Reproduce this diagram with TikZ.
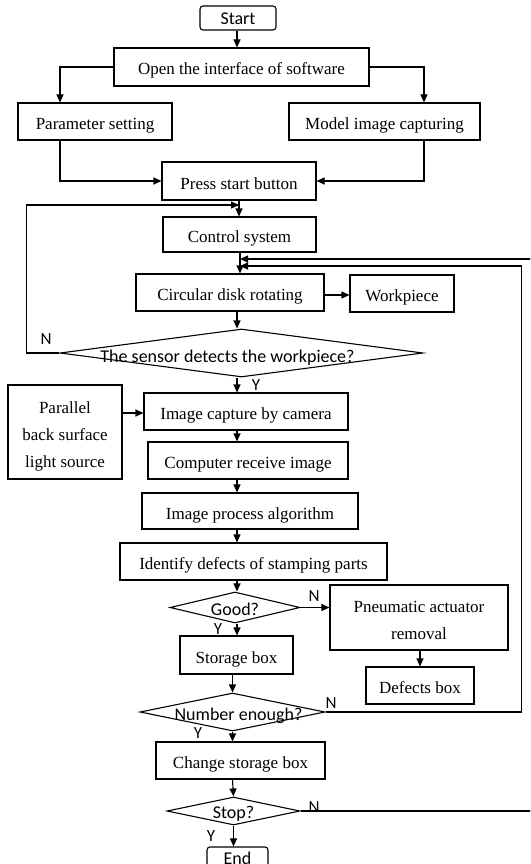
\documentclass[tikz,border=0pt]{standalone}
\usepackage{fontspec}
\setmainfont{Liberation Serif}
\newfontfamily\calibri{Carlito}
\usetikzlibrary{shapes.geometric,arrows.meta}
\begin{document}
\begin{tikzpicture}[x=1pt,y=-1pt,
  box/.style={draw, line width=1.1pt, inner sep=0pt, align=center, text height=16pt, text depth=0pt, font=\fontsize{17}{20}\selectfont},
  box3/.style={draw, line width=1.1pt, inner sep=0pt, align=center, font=\fontsize{17}{27}\selectfont},
  term/.style={draw, line width=1.1pt, inner sep=0pt, rounded corners=3pt, text depth=0pt, font=\calibri\fontsize{18}{20}\selectfont},
  dia/.style={draw, diamond, line width=1.1pt, inner sep=0pt, text depth=0pt, font=\calibri\fontsize{18}{20}\selectfont},
  arr/.style={line width=1.1pt, -{Triangle[length=8pt,width=7pt]}},
  lab/.style={inner sep=0pt, font=\calibri\fontsize{17}{20}\selectfont}]
\clip (0,0) rectangle (530,864);
% nodes
\node[term, text height=14pt, minimum width=76pt, minimum height=24pt] (start) at (238,18) {Start};
\node[box, minimum width=255pt, minimum height=38pt] (open) at (241.5,67) {Open the interface of software};
\node[box, minimum width=154pt, minimum height=37pt] (param) at (95,121.5) {Parameter setting};
\node[box, minimum width=191pt, minimum height=37pt] (model) at (384.5,121.5) {Model image capturing};
\node[box, minimum width=154pt, minimum height=38pt] (press) at (239,181) {Press start button};
\node[box, minimum width=153pt, minimum height=35pt] (control) at (239.5,234.5) {Control system};
\node[box, minimum width=188pt, minimum height=37pt] (circ) at (230,292.5) {Circular disk rotating};
\node[box, minimum width=104pt, minimum height=37pt] (work) at (402,293.5) {Workpiece};
\node[dia, text height=18pt, minimum width=363pt, minimum height=48pt] (sensor) at (241.5,353) {\makebox[0pt]{\kern-28pt The sensor detects the workpiece?}};
\node[box3, minimum width=114pt, minimum height=94pt] (par) at (65,432) {\rule{0pt}{20pt}Parallel\\back surface\\light source};
\node[box, minimum width=204pt, minimum height=37pt] (imgcap) at (246,411.5) {Image capture by camera};
\node[box, minimum width=200pt, minimum height=37pt] (comp) at (248,460.5) {Computer receive image};
\node[box, minimum width=216pt, minimum height=36pt] (proc) at (250,511) {Image process algorithm};
\node[box, minimum width=267pt, minimum height=37pt] (ident) at (253.5,561.5) {Identify defects of stamping parts};
\node[dia, text height=15pt, minimum width=130pt, minimum height=31pt] (good) at (235,607.5) {\makebox[0pt]{Good?}};
\node[box3, minimum width=178pt, minimum height=65pt] (pneu) at (419,617.5) {\rule{0pt}{17.6pt}Pneumatic actuator\\removal};
\node[box, minimum width=108pt, minimum height=37pt] (defects) at (420,685.5) {Defects box};
\node[box, minimum width=113pt, minimum height=38pt] (storage) at (236.5,655) {Storage box};
\node[dia, text height=16pt, minimum width=185pt, minimum height=38pt] (number) at (232.5,712) {\makebox[0pt]{\kern12pt Number enough?}};
\node[box, minimum width=169pt, minimum height=37pt] (change) at (240.5,760.5) {Change storage box};
\node[dia, text height=15pt, minimum width=133pt, minimum height=28pt] (stop) at (233.5,811) {\makebox[0pt]{Stop?}};
\node[term, text height=12pt, minimum width=61pt, minimum height=22pt] (end) at (237.5,858) {End};
% helper coordinates
\coordinate (pl) at (60,0);
\coordinate (pr) at (424,0);
\coordinate (m1) at (239,205);
\coordinate (m2) at (240,266);
\coordinate (m3) at (240,259);
\coordinate (c) at (237,0);
% connectors
\draw[arr] (start.south -| c) -- (open.north -| c);
\draw[arr] (open.west) -| (param.north -| pl);
\draw[arr] (open.east) -| (model.north -| pr);
\draw[arr] (param.south -| pl) |- (press.west);
\draw[arr] (model.south -| pr) |- (press.east);
\draw[arr] (press.south -| m1) -- (control.north -| m1);
\draw[arr] (sensor.west) -- ++(-33,0) |- (m1);
\draw[arr] (control.south -| m2) -- (circ.north -| m2);
\draw[arr] (number.east) -- ++(196,0) |- (m2);
\draw[arr] (stop.east) -- ++(240,0) |- (m3);
\draw[arr] (circ.east |- 0,295) -- (work.west |- 0,295);
\draw[arr] (circ.south -| c) -- (sensor.north -| c);
\draw[arr] (sensor.south -| c) -- (imgcap.north -| c);
\draw[arr] (par.east |- 0,413) -- (imgcap.west |- 0,413);
\draw[arr] (imgcap.south -| c) -- (comp.north -| c);
\draw[arr] (comp.south -| c) -- (proc.north -| c);
\draw[arr] (proc.south -| c) -- (ident.north -| c);
\draw[arr] (ident.south -| c) -- (good.north -| c);
\draw[arr] (good.east) -- (good.east -| pneu.west);
\draw[arr] (pneu.south -| defects.north) -- (defects.north);
\draw[arr] (good.south -| c) -- (storage.north -| c);
\draw[arr] (storage.south -| number.north) -- (number.north);
\draw[arr] (number.south) -- (change.north -| number.south);
\draw[arr] (change.south -| number.south) -- (stop.north);
\draw[arr] (stop.south) -- (end.north -| stop.south);
% labels
\node[lab] (n1) at (46,339) {N};
\node[lab] (y1) at (256,385) {Y};
\node[lab] (n2) at (314,596) {N};
\node[lab] (y2) at (218,629) {Y};
\node[lab] (n3) at (331,703) {N};
\node[lab] (y3) at (198,733) {Y};
\node[lab] (n4) at (314,807) {N};
\node[lab] (y4) at (211,836) {Y};
\end{tikzpicture}
\end{document}
